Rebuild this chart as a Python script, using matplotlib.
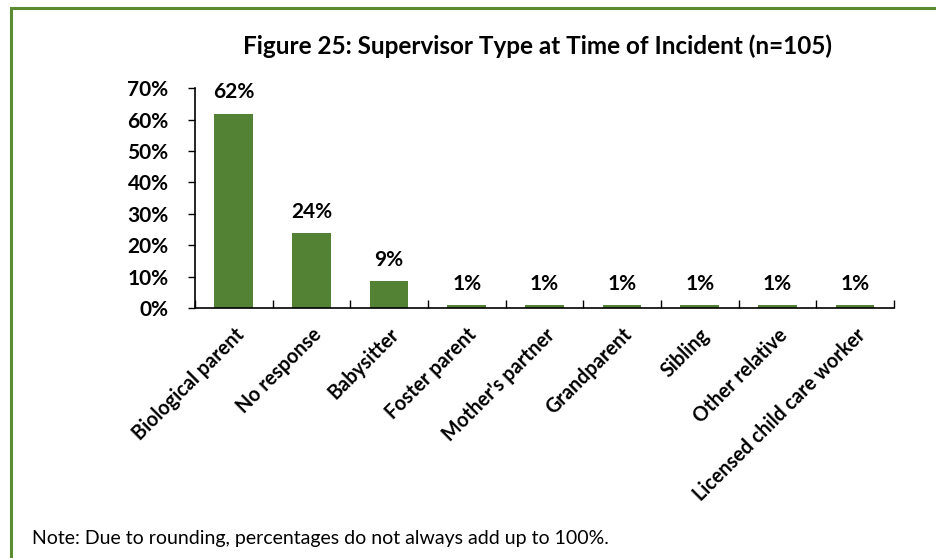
import matplotlib.pyplot as plt
import numpy as np
from matplotlib.patches import Rectangle

categories = ["Biological parent", "No response", "Babysitter", "Foster parent",
              "Mother's partner", "Grandparent", "Sibling", "Other relative",
              "Licensed child care worker"]
values = [61.9, 23.8, 8.6, 0.95, 0.95, 0.95, 0.95, 0.95, 0.95]
labels = ["62%", "24%", "9%", "1%", "1%", "1%", "1%", "1%", "1%"]
yticks = [0, 10, 20, 30, 40, 50, 60, 70]

plt.rcParams['font.family'] = ['Lato', 'DejaVu Sans']

fig = plt.figure(figsize=(9.37, 5.58), dpi=100)
ax = fig.add_axes([0.208, 0.448, 0.746, 0.394])

x = np.arange(len(categories))
ax.bar(x, values, width=0.5, color="#548235")
for xi, v, lab in zip(x, values, labels):
    ax.annotate(lab, (xi, v), xytext=(0, 8), textcoords="offset points",
                ha="center", va="bottom", fontsize=15, fontweight="bold")

ax.set_xlim(-0.5, len(categories) - 0.5)
ax.set_ylim(0, 70)
ax.set_yticks(yticks)
ax.set_yticklabels([f"{t}%" for t in yticks], fontsize=15, fontweight="bold")
ax.tick_params(axis="y", direction="out", length=5, width=1, pad=14)

ax.set_xticks(x)
ax.set_xticklabels(categories, rotation=45, ha="right", rotation_mode="anchor",
                   fontsize=14.2, fontweight="bold")
ax.tick_params(axis="x", which="major", length=0, pad=12)
ax.set_xticks(np.arange(-0.5, len(categories)), minor=True)
ax.tick_params(axis="x", which="minor", direction="in", length=6, width=1)

for s in ["top", "right"]:
    ax.spines[s].set_visible(False)
ax.spines["left"].set_linewidth(1.2)
ax.spines["bottom"].set_linewidth(1.2)

fig.text(0.574, 0.918, "Figure 25: Supervisor Type at Time of Incident (n=105)",
         ha="center", va="center", fontsize=17.5, fontweight="bold")
fig.text(0.034, 0.035, "Note: Due to rounding, percentages do not always add up to 100%.",
         ha="left", va="center", fontsize=14)

fig.patches.append(Rectangle((0.012, -0.05), 1.1, 1.036, transform=fig.transFigure,
                             fill=False, edgecolor="#5B8C32", linewidth=2.2))

fig.savefig("out.png", dpi=100)
